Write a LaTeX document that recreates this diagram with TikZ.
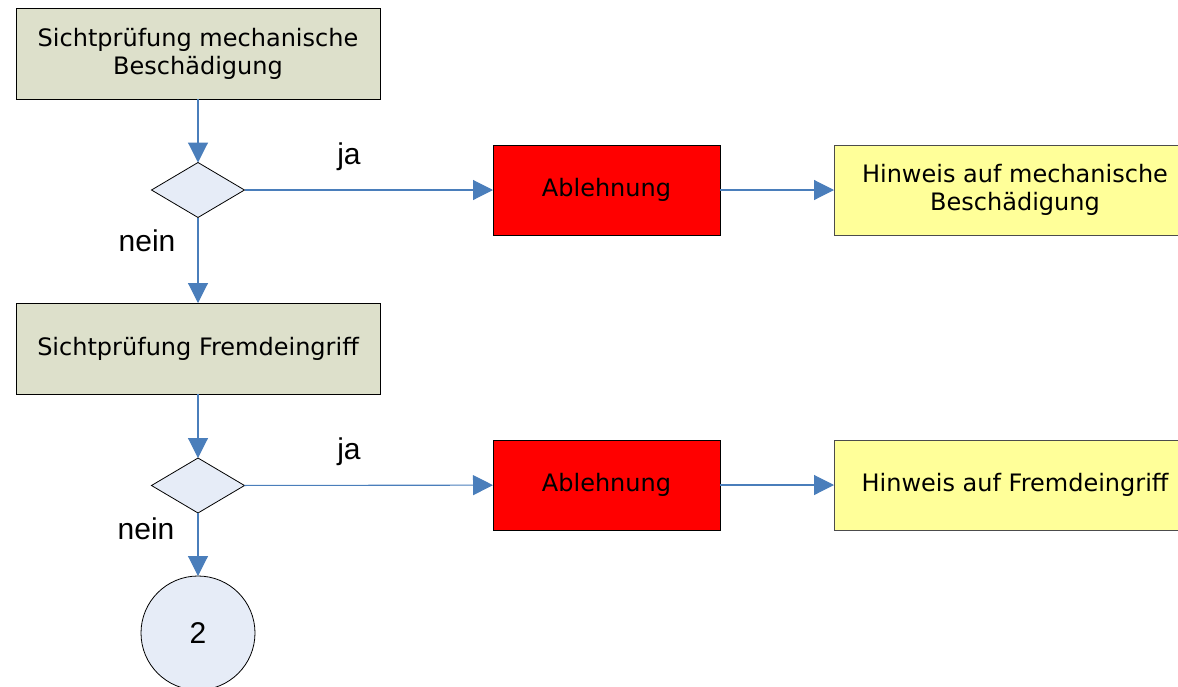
\documentclass[tikz,border=0pt]{standalone}
\usepackage{fontspec}
\newfontfamily\boxfont{DejaVu Sans}
\newfontfamily\labfont{Liberation Sans}
\usetikzlibrary{shapes.geometric,arrows.meta}
\definecolor{boxgreen}{HTML}{DDE0CB}
\definecolor{diafill}{HTML}{E6ECF7}
\definecolor{hintyellow}{HTML}{FFFF99}
\definecolor{flowblue}{HTML}{4A7EBB}
\tikzset{
  every node/.style={inner sep=0pt, outer sep=0pt},
  boxtext/.style={align=center, font=\boxfont\fontsize{24}{28}\selectfont},
  procbox/.style={boxtext, draw=black, line width=0.9pt, fill=boxgreen, minimum width=364pt, minimum height=91pt},
  rejectbox/.style={boxtext, draw=black, line width=0.9pt, fill=red, minimum width=227pt, minimum height=90pt},
  hintbox/.style={boxtext, draw=black!70, line width=0.9pt, fill=hintyellow, minimum width=362pt, minimum height=90pt},
  decision/.style={draw=black, line width=0.8pt, fill=diafill, diamond, minimum width=93pt, minimum height=55pt},
  connector/.style={draw=black, line width=0.8pt, fill=diafill, circle, minimum size=114pt, font=\labfont\fontsize{30}{36}\selectfont},
  flow/.style={draw=flowblue, line width=1.1pt, -{Triangle[length=20pt,width=20pt]}, color=flowblue},
  lab/.style={font=\labfont\fontsize{30}{36}\selectfont}
}
\begin{document}
\begin{tikzpicture}[x=1pt,y=-1pt]
\useasboundingbox (0,0) rectangle (1178,686);
\clip (0,0) rectangle (1178,686);
\node[procbox] (p1) at (198,53.5) {Sichtprüfung mechanische\\Beschädigung};
\node[decision] (d1) at (198,190) {};
\node[rejectbox] (r1) at (606.5,190) {Ablehnung};
\node[hintbox] (h1) at (1015,190) {Hinweis auf mechanische\\Beschädigung};
\node[procbox] (p2) at (198,348.5) {Sichtprüfung Fremdeingriff};
\node[decision] (d2) at (198,485.5) {};
\node[rejectbox] (r2) at (606.5,485) {Ablehnung};
\node[hintbox] (h2) at (1015,485) {Hinweis auf Fremdeingriff};
\node[connector] (c2) at (198,633) {2};
\node[lab] (ja1) at (349,157) {ja};
\node[lab] (nein1) at (147,241) {nein};
\node[lab] (ja2) at (349,452) {ja};
\node[lab] (nein2) at (146,529) {nein};
\draw[flow] (p1) -- (d1);
\draw[flow] (d1) -- (r1);
\draw[flow] (r1) -- (h1);
\draw[flow] (d1) -- (p2);
\draw[flow] (p2) -- (d2);
\draw[flow] (d2) -- (r2);
\draw[flow] (r2) -- (h2);
\draw[flow] (d2) -- (c2);
\end{tikzpicture}
\end{document}
